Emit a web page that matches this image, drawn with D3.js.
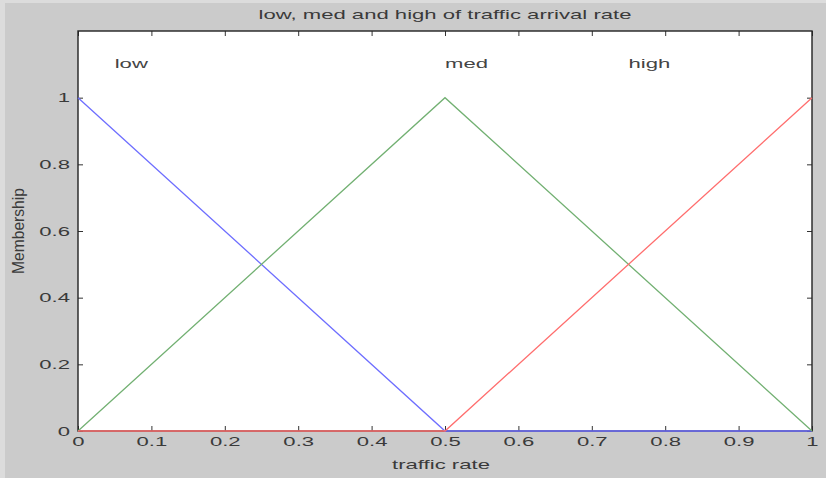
<!DOCTYPE html>
<html>
<head>
<meta charset="utf-8">
<script src="https://cdn.jsdelivr.net/npm/d3@7"></script>
<style>
  html, body { margin: 0; padding: 0; background: #cccccc; }
  svg { display: block; font-family: "Liberation Sans", Arial, sans-serif; }
</style>
</head>
<body>
<svg id="chart" width="826" height="478"></svg>
<script>
// 数据
const xPoints = [0, 0.5, 1];
const lowValues = [1, 0, 0];
const medValues = [0, 1, 0];
const highValues = [0, 0, 1];
const seriesNames = ["low", "med", "high"];
const seriesColors = ["#6e6eff", "#72b072", "#ff6e6e"];
const labelX = [0.05, 0.5, 0.75];
const labelY = 1.1;
const xTicks = [0, 0.1, 0.2, 0.3, 0.4, 0.5, 0.6, 0.7, 0.8, 0.9, 1];
const yTicks = [0, 0.2, 0.4, 0.6, 0.8, 1];

const svg = d3.select("#chart");
const plotL = 78, plotR = 812, plotT = 31, plotB = 431;
const stretch = 1.7;  // 原图文字被横向拉伸
const fontSize = "13px";
const textColor = "#3a3a3a";

const x = d3.scaleLinear().domain([0, 1]).range([plotL, plotR]);
const y = d3.scaleLinear().domain([0, 1.2]).range([plotB, plotT]);

// 外框浅色边
svg.append("rect").attr("x", 0).attr("y", 0).attr("width", 826).attr("height", 478).attr("fill", "#dcdcdc");
svg.append("rect").attr("x", 5).attr("y", 3).attr("width", 821).attr("height", 475).attr("fill", "#cbcbcb");

// 绘图区背景
svg.append("rect")
  .attr("x", plotL).attr("y", plotT)
  .attr("width", plotR - plotL).attr("height", plotB - plotT)
  .attr("fill", "#ffffff");

// 刻度（向内）
const tickLen = 5;
const fmt = d => d3.format("")(d);
const xAxisB = d3.axisBottom(x).tickValues(xTicks).tickSize(-tickLen).tickPadding(6).tickFormat(fmt);
const xAxisT = d3.axisTop(x).tickValues(xTicks).tickSize(-tickLen).tickFormat("");
const yAxisL = d3.axisLeft(y).tickValues(yTicks).tickSize(-tickLen).tickPadding(0).tickFormat(fmt);
const yAxisR = d3.axisRight(y).tickValues(yTicks).tickSize(-tickLen).tickFormat("");

function styleAxis(g) {
  g.select(".domain").remove();
  g.selectAll("line").attr("stroke", "#333");
  g.selectAll("text").attr("fill", textColor).style("font-size", fontSize);
}

svg.append("g").attr("transform", `translate(0,${plotB})`).call(xAxisB).call(styleAxis)
  .selectAll("text").attr("transform", `scale(${stretch},1)`);
svg.append("g").attr("transform", `translate(0,${plotT})`).call(xAxisT).call(styleAxis);
svg.append("g").attr("transform", `translate(${plotL},0)`).call(yAxisL).call(styleAxis)
  .selectAll("text").attr("x", 0).attr("transform", `translate(-8,0) scale(${stretch},1)`);
svg.append("g").attr("transform", `translate(${plotR},0)`).call(yAxisR).call(styleAxis);

// 边框
svg.append("rect")
  .attr("x", plotL).attr("y", plotT)
  .attr("width", plotR - plotL).attr("height", plotB - plotT)
  .attr("fill", "none").attr("stroke", "#222").attr("stroke-width", 1.4);

// 曲线
const line = d3.line().x(d => x(d[0])).y(d => y(d[1]));
[lowValues, medValues, highValues].forEach((vals, i) => {
  svg.append("path")
    .datum(xPoints.map((xv, j) => [xv, vals[j]]))
    .attr("d", line)
    .attr("fill", "none")
    .attr("stroke", seriesColors[i])
    .attr("stroke-width", 1.3);
});

// 标签
seriesNames.forEach((name, i) => {
  svg.append("text")
    .attr("transform", `translate(${x(labelX[i])},${y(labelY)}) scale(${stretch},1)`)
    .attr("dy", "0.3em")
    .attr("fill", "#444")
    .style("font-size", fontSize)
    .text(name);
});

// 标题和轴标题
svg.append("text")
  .attr("transform", `translate(${(plotL + plotR) / 2},19) scale(${stretch},1)`)
  .attr("text-anchor", "middle").attr("fill", textColor)
  .style("font-size", fontSize)
  .text("low, med and high of traffic arrival rate");

svg.append("text")
  .attr("transform", `translate(${(plotL + plotR) / 2 - 4},469) scale(${stretch},1)`)
  .attr("text-anchor", "middle").attr("fill", textColor)
  .style("font-size", fontSize)
  .text("traffic rate");

svg.append("text")
  .attr("transform", `translate(24,231) rotate(-90) scale(1.2,1.3)`)
  .attr("text-anchor", "middle").attr("fill", textColor)
  .style("font-size", fontSize)
  .text("Membership");
</script>
</body>
</html>
